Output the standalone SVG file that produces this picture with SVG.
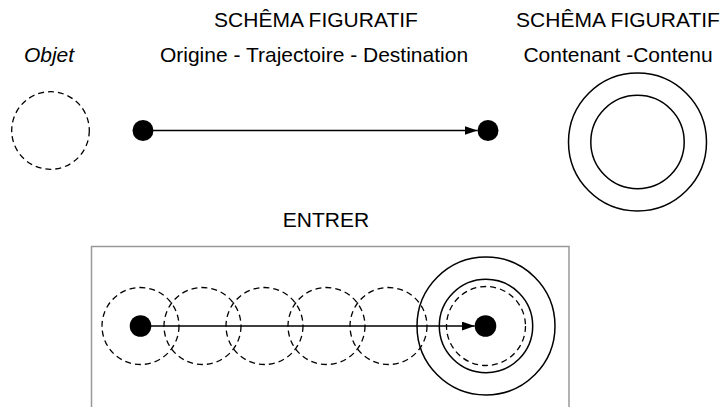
<svg xmlns="http://www.w3.org/2000/svg" width="723" height="407" viewBox="0 0 723 407">
<defs>
<marker id="ah" markerWidth="14" markerHeight="9" refX="13" refY="4.5" orient="auto" markerUnits="userSpaceOnUse">
<path d="M0,0 L13,4.5 L0,9 Z" fill="#000"/>
</marker>
<style>
text{font-family:"Liberation Sans",Arial,sans-serif;font-size:21px;fill:#000}
.it{font-style:italic}
.dash{fill:none;stroke:#000;stroke-width:1.3;stroke-dasharray:6 4}
.sol{fill:none;stroke:#000;stroke-width:1.5}
.dot{fill:#000}
.ln{stroke:#000;stroke-width:1.5;fill:none}
.box{fill:none;stroke:#999;stroke-width:1.5}
</style>
</defs>
<rect width="723" height="407" fill="#fff"/>
<g id="labels">
<text x="49" y="61.5" text-anchor="middle" class="it">Objet</text>
<text x="316" y="27" text-anchor="middle">SCHÊMA FIGURATIF</text>
<text x="314" y="61.5" text-anchor="middle">Origine - Trajectoire - Destination</text>
<text x="618" y="27" text-anchor="middle">SCHÊMA FIGURATIF</text>
<text x="618" y="61.5" text-anchor="middle">Contenant -Contenu</text>
<text x="326" y="227" text-anchor="middle">ENTRER</text>
</g>
<g id="objet"><circle class="dash" cx="50.5" cy="130.5" r="38.8"/></g>
<g id="origine"><circle class="dot" cx="143" cy="130.5" r="10.5"/></g>
<g id="destination"><circle class="dot" cx="488" cy="130.5" r="10.5"/></g>
<g id="contenant">
<circle class="sol" cx="637.5" cy="142" r="69"/>
<circle class="sol" cx="637.5" cy="142" r="46.7"/>
</g>
<g id="entrer">
<path class="box" d="M91.5,407 V246.5 H569 V407"/>
<circle class="dash" cx="140.5" cy="326" r="38.5"/>
<circle class="dash" cx="202.5" cy="326" r="38.5"/>
<circle class="dash" cx="264.5" cy="326" r="38.5"/>
<circle class="dash" cx="326.5" cy="326" r="38.5"/>
<circle class="dash" cx="388.5" cy="326" r="38.5"/>
<circle class="sol" cx="486" cy="326" r="69"/>
<circle class="sol" cx="486" cy="326" r="46.7"/>
<circle class="dash" cx="486" cy="326" r="39.5"/>
<circle class="dot" cx="140.5" cy="326" r="10.8"/>
<circle class="dot" cx="485.5" cy="326" r="10.8"/>
</g>
<g id="connectors">
<line class="ln" x1="143" y1="130.5" x2="477.5" y2="130.5" marker-end="url(#ah)"/>
<line class="ln" x1="140.5" y1="326" x2="474.7" y2="326" marker-end="url(#ah)"/>
</g>
</svg>
